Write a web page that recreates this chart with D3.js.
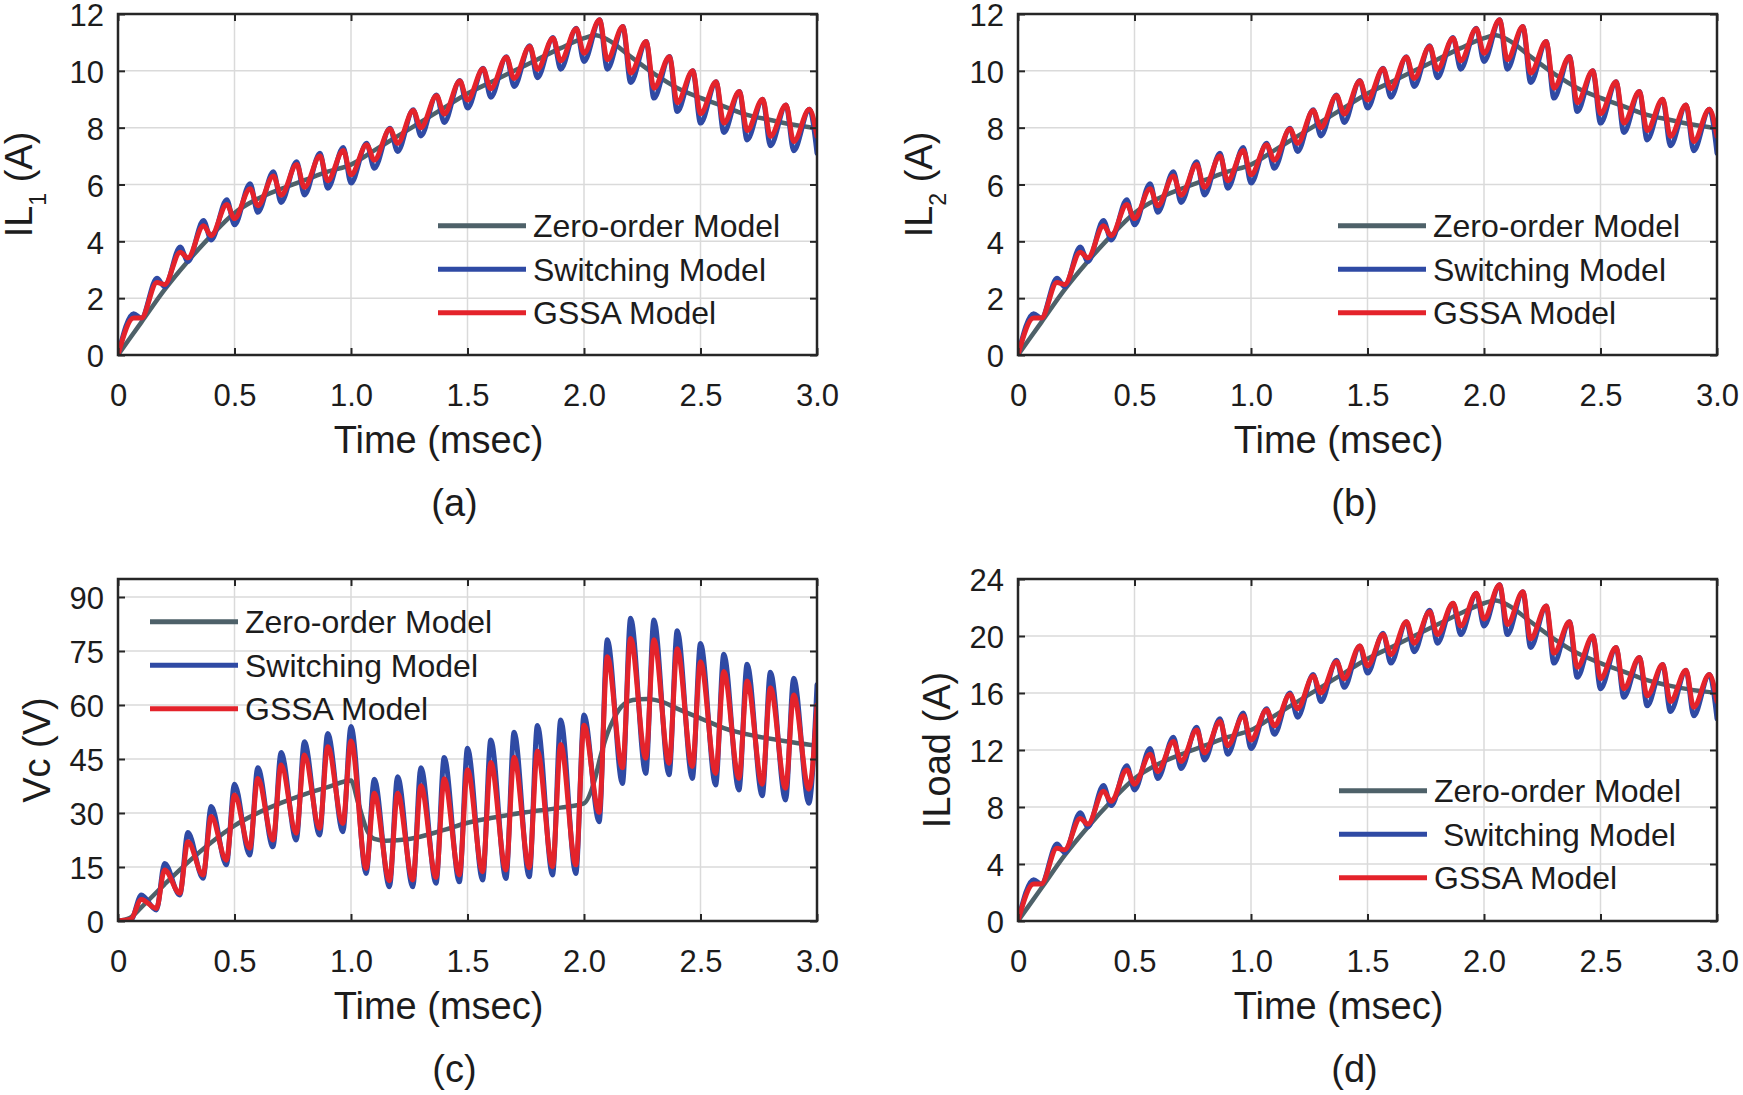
<!doctype html>
<html lang="en">
<head>
<meta charset="utf-8">
<script src="https://cdn.jsdelivr.net/npm/d3@7/dist/d3.min.js"></script>
<style>
  body { margin: 0; background: #fff; }
  svg text { font-family: "Liberation Sans", Arial, sans-serif; }
</style>
</head>
<body>
<svg id="chart" width="1743" height="1095"></svg>
<script>
    // x axis (msec), shared by all four panels
    var xTicks = [0, 0.5, 1.0, 1.5, 2.0, 2.5, 3.0];
    var xTickText = ["0", "0.5", "1.0", "1.5", "2.0", "2.5", "3.0"];

    // trough / peak instants of the inductor current ripple (msec)
    var tRipple = [0, 0.067, 0.1, 0.167, 0.2, 0.267, 0.3, 0.367, 0.4, 0.467, 0.5, 0.567, 0.6, 0.667, 0.7, 0.767,
        0.8, 0.867, 0.9, 0.967, 1.0, 1.067, 1.1, 1.167, 1.2, 1.267, 1.3, 1.367, 1.4, 1.467, 1.5, 1.567, 1.6,
        1.667, 1.7, 1.767, 1.8, 1.867, 1.9, 1.967, 2.0, 2.067, 2.1, 2.167, 2.2, 2.267, 2.3, 2.367, 2.4, 2.467,
        2.5, 2.567, 2.6, 2.667, 2.7, 2.767, 2.8, 2.867, 2.9, 2.967, 3.0];
    // peak / trough instants of the capacitor voltage ripple (msec)
    var tRippleC = [0, 0.055, 0.1, 0.165, 0.2, 0.265, 0.3, 0.365, 0.4, 0.465, 0.5, 0.565, 0.6, 0.665, 0.7, 0.765,
        0.8, 0.865, 0.9, 0.965, 1.0, 1.065, 1.1, 1.165, 1.2, 1.265, 1.3, 1.365, 1.4, 1.465, 1.5, 1.565, 1.6,
        1.665, 1.7, 1.765, 1.8, 1.865, 1.9, 1.965, 2.0, 2.065, 2.1, 2.165, 2.2, 2.265, 2.3, 2.365, 2.4, 2.465,
        2.5, 2.565, 2.6, 2.665, 2.7, 2.765, 2.8, 2.865, 2.9, 2.965, 3.0];
    // sample instants of the smooth zero-order traces
    var tZeroI = [0, 0.1, 0.2, 0.3, 0.4, 0.5, 0.6, 0.7, 0.8, 0.9, 1.0, 1.1, 1.2, 1.3, 1.4, 1.5, 1.6, 1.7, 1.8,
        1.9, 2.0, 2.05, 2.1, 2.2, 2.3, 2.4, 2.5, 2.6, 2.7, 2.8, 2.9, 3.0];
    var tZeroV = [0, 0.05, 0.1, 0.2, 0.3, 0.4, 0.5, 0.6, 0.7, 0.8, 0.9, 1.0, 1.03, 1.07, 1.1, 1.15, 1.25, 1.4,
        1.5, 1.6, 1.75, 1.9, 2.0, 2.045, 2.07, 2.1, 2.125, 2.16, 2.21, 2.27, 2.33, 2.4, 2.5, 2.6, 2.75, 2.9, 3.0];

    // (a) IL1 (A)
    var zeroIL1 = [0, 1.15, 2.3, 3.3, 4.2, 5.0, 5.5, 5.85, 6.15, 6.45, 6.7, 7.2, 7.7, 8.2, 8.7, 9.2, 9.6, 10.0,
        10.4, 10.8, 11.15, 11.25, 11.1, 10.5, 9.9, 9.4, 9.05, 8.75, 8.45, 8.27, 8.1, 7.98];
    var swIL1 = [0, 1.45, 1.3, 2.7, 2.4, 3.8, 3.29, 4.73, 4.05, 5.46, 4.58, 6.03, 5.02, 6.45, 5.37, 6.8, 5.63,
        7.1, 5.87, 7.3, 6.05, 7.45, 6.57, 7.98, 7.16, 8.63, 7.71, 9.15, 8.18, 9.66, 8.69, 10.09, 9.07, 10.5,
        9.45, 10.88, 9.76, 11.17, 10.06, 11.5, 10.33, 11.8, 10.06, 11.56, 9.59, 11.03, 9.04, 10.5, 8.57, 10.0,
        8.16, 9.62, 7.83, 9.27, 7.57, 9.0, 7.36, 8.8, 7.19, 8.65, 7.1];
    var gssaIL1 = [0, 1.3, 1.3, 2.55, 2.48, 3.62, 3.42, 4.55, 4.2, 5.3, 4.8, 5.85, 5.25, 6.3, 5.62, 6.7, 5.9,
        7.0, 6.13, 7.2, 6.34, 7.4, 6.86, 7.95, 7.45, 8.6, 8.0, 9.12, 8.48, 9.64, 8.97, 10.07, 9.37, 10.48,
        9.73, 10.86, 10.05, 11.15, 10.35, 11.48, 10.62, 11.8, 10.39, 11.56, 9.92, 11.03, 9.39, 10.5, 8.88,
        10.0, 8.49, 9.62, 8.16, 9.27, 7.9, 9.0, 7.69, 8.8, 7.51, 8.65, 7.7];

    // (b) IL2 (A)
    var zeroIL2 = [0, 1.15, 2.3, 3.3, 4.2, 5.0, 5.5, 5.85, 6.15, 6.45, 6.7, 7.2, 7.7, 8.2, 8.7, 9.2, 9.6, 10.0,
        10.4, 10.8, 11.15, 11.25, 11.1, 10.5, 9.9, 9.4, 9.05, 8.75, 8.45, 8.27, 8.1, 7.98];
    var swIL2 = [0, 1.45, 1.3, 2.7, 2.4, 3.8, 3.29, 4.73, 4.05, 5.46, 4.58, 6.03, 5.02, 6.45, 5.37, 6.8, 5.63,
        7.1, 5.87, 7.3, 6.05, 7.45, 6.57, 7.98, 7.16, 8.63, 7.71, 9.15, 8.18, 9.66, 8.69, 10.09, 9.07, 10.5,
        9.45, 10.88, 9.76, 11.17, 10.06, 11.5, 10.33, 11.8, 10.06, 11.56, 9.59, 11.03, 9.04, 10.5, 8.57, 10.0,
        8.16, 9.62, 7.83, 9.27, 7.57, 9.0, 7.36, 8.8, 7.19, 8.65, 7.1];
    var gssaIL2 = [0, 1.3, 1.3, 2.55, 2.48, 3.62, 3.42, 4.55, 4.2, 5.3, 4.8, 5.85, 5.25, 6.3, 5.62, 6.7, 5.9,
        7.0, 6.13, 7.2, 6.34, 7.4, 6.86, 7.95, 7.45, 8.6, 8.0, 9.12, 8.48, 9.64, 8.97, 10.07, 9.37, 10.48,
        9.73, 10.86, 10.05, 11.15, 10.35, 11.48, 10.62, 11.8, 10.39, 11.56, 9.92, 11.03, 9.39, 10.5, 8.88,
        10.0, 8.49, 9.62, 8.16, 9.27, 7.9, 9.0, 7.69, 8.8, 7.51, 8.65, 7.7];

    // (c) Vc (V)
    var zeroVc = [0, 0.8, 3.8, 10.2, 16.3, 21.8, 26.5, 30.0, 32.8, 35.2, 37.2, 39.0, 33.0, 25.0, 22.8, 22.3,
        22.8, 25.3, 27.3, 28.6, 30.2, 31.5, 32.7, 39.0, 45.5, 52.0, 55.8, 59.5, 61.4, 61.7, 61.0, 59.0, 56.3,
        53.6, 51.2, 49.6, 48.7];
    var swVc = [0, 0.2, 7.2, 3.05, 16.0, 7.2, 24.6, 11.85, 31.8, 15.6, 38.0, 18.3, 42.6, 20.6, 46.8, 22.5, 49.8,
        23.9, 52.1, 24.8, 54.0, 13.2, 39.4, 9.5, 40.1, 9.5, 42.6, 10.5, 45.4, 10.9, 48.0, 11.4, 50.3, 11.8,
        52.4, 12.3, 54.3, 12.8, 55.8, 13.2, 57.2, 27.6, 78.1, 38.2, 84.1, 41.0, 83.6, 40.6, 80.6, 39.6, 77.1,
        37.8, 74.1, 36.4, 71.3, 34.8, 69.1, 33.6, 67.4, 32.7, 65.6];
    var gssaVc = [0, 0.5, 6.0, 3.5, 14.2, 7.7, 22.0, 12.8, 29.0, 16.9, 35.0, 20.2, 39.6, 22.5, 43.3, 24.4, 46.1,
        25.7, 48.4, 27.1, 50.0, 14.6, 35.5, 11.2, 35.5, 11.4, 37.6, 12.1, 39.5, 12.8, 42.0, 13.7, 44.0, 14.2,
        45.5, 14.8, 47.2, 15.1, 49.0, 15.6, 54.4, 30.2, 73.4, 42.6, 78.5, 45.2, 78.1, 43.8, 75.6, 42.9, 72.0,
        41.0, 69.3, 39.6, 66.7, 38.0, 64.8, 36.9, 62.8, 36.6, 60.0];

    // (d) ILoad (A)
    var zeroILoad = [0, 2.3, 4.6, 6.6, 8.4, 10.0, 11.0, 11.7, 12.3, 12.9, 13.4, 14.4, 15.4, 16.4, 17.4, 18.4,
        19.2, 20.0, 20.8, 21.6, 22.3, 22.5, 22.2, 21.0, 19.8, 18.8, 18.1, 17.5, 16.9, 16.5, 16.2, 16.0];
    var swILoad = [0, 2.9, 2.6, 5.4, 4.8, 7.6, 6.6, 9.5, 8.1, 10.9, 9.2, 12.1, 10.0, 12.9, 10.7, 13.6, 11.3,
        14.2, 11.7, 14.6, 12.1, 14.9, 13.1, 16.0, 14.3, 17.3, 15.4, 18.3, 16.4, 19.3, 17.4, 20.2, 18.1, 21.0,
        18.9, 21.8, 19.5, 22.3, 20.1, 23.0, 20.7, 23.6, 20.1, 23.1, 19.2, 22.1, 18.1, 21.0, 17.1, 20.0, 16.3,
        19.2, 15.7, 18.5, 15.1, 18.0, 14.7, 17.6, 14.4, 17.3, 14.2];
    var gssaILoad = [0, 2.6, 2.6, 5.1, 5.0, 7.2, 6.8, 9.1, 8.4, 10.6, 9.6, 11.7, 10.5, 12.6, 11.2, 13.4, 11.8,
        14.0, 12.3, 14.4, 12.7, 14.8, 13.7, 15.9, 14.9, 17.2, 16.0, 18.2, 17.0, 19.3, 17.9, 20.1, 18.7, 21.0,
        19.5, 21.7, 20.1, 22.3, 20.7, 23.0, 21.2, 23.6, 20.8, 23.1, 19.8, 22.1, 18.8, 21.0, 17.8, 20.0, 17.0,
        19.2, 16.3, 18.5, 15.8, 18.0, 15.4, 17.6, 15.0, 17.3, 15.4];

    var yTicksIL = [0, 2, 4, 6, 8, 10, 12];
    var yTicksVc = [0, 15, 30, 45, 60, 75, 90];
    var yTicksILoad = [0, 4, 8, 12, 16, 20, 24];

    var legendNames = ["Zero-order Model", "Switching Model", "GSSA Model"];

    var colZero = "#4e6169", colSw = "#2f4aa4", colGssa = "#e4232b";
    var ink = "#1c1c1c";

    var svg = d3.select("#chart");
    var plotW = 699;

    var panels = [
        {id: "a", left: 118, top: 14, h: 341, yMax: 12, yTicks: yTicksIL, ylab: ["IL", "1", " (A)"], ylabX: 32,
            tZero: tZeroI, zero: zeroIL1, tRip: tRipple, sw: swIL1, gssa: gssaIL1,
            legX: 438, legY: 225.7, swName: legendNames[1]},
        {id: "b", left: 1018, top: 14, h: 341, yMax: 12, yTicks: yTicksIL, ylab: ["IL", "2", " (A)"], ylabX: 932,
            tZero: tZeroI, zero: zeroIL2, tRip: tRipple, sw: swIL2, gssa: gssaIL2,
            legX: 1338, legY: 225.7, swName: legendNames[1]},
        {id: "c", left: 118, top: 579, h: 342, yMax: 95, yTicks: yTicksVc, ylab: ["Vc (V)"], ylabX: 50,
            tZero: tZeroV, zero: zeroVc, tRip: tRippleC, sw: swVc, gssa: gssaVc,
            legX: 150, legY: 621.7, swName: legendNames[1]},
        {id: "d", left: 1018, top: 579, h: 342, yMax: 24, yTicks: yTicksILoad, ylab: ["ILoad (A)"], ylabX: 950,
            tZero: tZeroI, zero: zeroILoad, tRip: tRipple, sw: swILoad, gssa: gssaILoad,
            legX: 1339, legY: 790.7, swName: " " + legendNames[1]}
    ];

    function styleAxis(s, size) {
        s.select(".domain").remove();
        s.attr("font-family", "Liberation Sans, Arial, sans-serif")
            .attr("font-size", size)
            .style("color", ink);
        s.selectAll(".tick line").attr("stroke", "#262626").attr("stroke-width", 2);
    }

    function drawPanel(p) {
        var h = p.h;
        var x = d3.scaleLinear().domain([0, 3]).range([0, plotW]);
        var y = d3.scaleLinear().domain([0, p.yMax]).range([h, 0]);
        var g = svg.append("g").attr("transform", "translate(" + p.left + "," + p.top + ")");

        // grid
        g.append("g").selectAll("line").data(xTicks).join("line")
            .attr("x1", function(d) { return x(d); }).attr("x2", function(d) { return x(d); })
            .attr("y1", 0).attr("y2", h)
            .attr("stroke", "#dadada").attr("stroke-width", 1.5);
        g.append("g").selectAll("line").data(p.yTicks).join("line")
            .attr("y1", function(d) { return y(d); }).attr("y2", function(d) { return y(d); })
            .attr("x1", 0).attr("x2", plotW)
            .attr("stroke", "#dadada").attr("stroke-width", 1.5);

        // traces
        g.append("clipPath").attr("id", "clip-" + p.id)
            .append("rect").attr("width", plotW).attr("height", h);
        var line = d3.line()
            .x(function(d) { return x(d[0]); })
            .y(function(d) { return y(d[1]); })
            .curve(d3.curveMonotoneX);
        var traces = g.append("g").attr("clip-path", "url(#clip-" + p.id + ")")
            .attr("fill", "none").attr("stroke-linejoin", "round").attr("stroke-linecap", "round");
        traces.append("path").attr("d", line(d3.zip(p.tZero, p.zero)))
            .attr("stroke", colZero).attr("stroke-width", 4.5);
        traces.append("path").attr("d", line(d3.zip(p.tRip, p.sw)))
            .attr("stroke", colSw).attr("stroke-width", 5);
        traces.append("path").attr("d", line(d3.zip(p.tRip, p.gssa)))
            .attr("stroke", colGssa).attr("stroke-width", 5);

        // axes, ticks pointing in on all four sides
        g.append("g").attr("transform", "translate(0," + h + ")")
            .call(d3.axisBottom(x).tickValues(xTicks)
                .tickFormat(function(d, i) { return xTickText[i]; })
                .tickSize(-7).tickPadding(29))
            .call(styleAxis, 31);
        g.append("g")
            .call(d3.axisTop(x).tickValues(xTicks).tickFormat("").tickSize(-7))
            .call(styleAxis, 31);
        g.append("g")
            .call(d3.axisLeft(y).tickValues(p.yTicks).tickSize(-7).tickPadding(14))
            .call(styleAxis, 31)
            .call(function(s) { s.selectAll("text").attr("dy", "0.38em"); });
        g.append("g").attr("transform", "translate(" + plotW + ",0)")
            .call(d3.axisRight(y).tickValues(p.yTicks).tickFormat("").tickSize(-7))
            .call(styleAxis, 31);

        // box
        g.append("rect").attr("width", plotW).attr("height", h)
            .attr("fill", "none").attr("stroke", "#262626").attr("stroke-width", 2.5);

        // axis titles and panel tag
        g.append("text").attr("x", plotW / 2 - 29).attr("y", h + 98)
            .attr("text-anchor", "middle").attr("font-size", 38).attr("fill", ink)
            .text("Time (msec)");
        g.append("text").attr("x", plotW / 2 - 13).attr("y", h + 161)
            .attr("text-anchor", "middle").attr("font-size", 38).attr("fill", ink)
            .text("(" + p.id + ")");

        var yl = svg.append("text")
            .attr("transform", "translate(" + p.ylabX + "," + (p.top + h / 2) + ") rotate(-90)")
            .attr("text-anchor", "middle").attr("font-size", 38).attr("fill", ink);
        yl.append("tspan").text(p.ylab[0]);
        if (p.ylab.length > 1) {
            yl.append("tspan").attr("font-size", 23).attr("dy", 14).text(p.ylab[1]);
            yl.append("tspan").attr("dy", -14).style("white-space", "pre").text(p.ylab[2]);
        }

        // legend (no box)
        var entries = [
            {name: legendNames[0], color: colZero},
            {name: p.swName, color: colSw},
            {name: legendNames[2], color: colGssa}
        ];
        var leg = svg.append("g");
        entries.forEach(function(e, i) {
            var ly = p.legY + i * 43.5;
            leg.append("line").attr("x1", p.legX).attr("x2", p.legX + 88)
                .attr("y1", ly).attr("y2", ly)
                .attr("stroke", e.color).attr("stroke-width", 5);
            leg.append("text").attr("x", p.legX + 95).attr("y", ly).attr("dy", "0.36em")
                .attr("font-size", 32).attr("fill", ink).style("white-space", "pre")
                .text(e.name);
        });
    }

    panels.forEach(drawPanel);
</script>
</body>
</html>
